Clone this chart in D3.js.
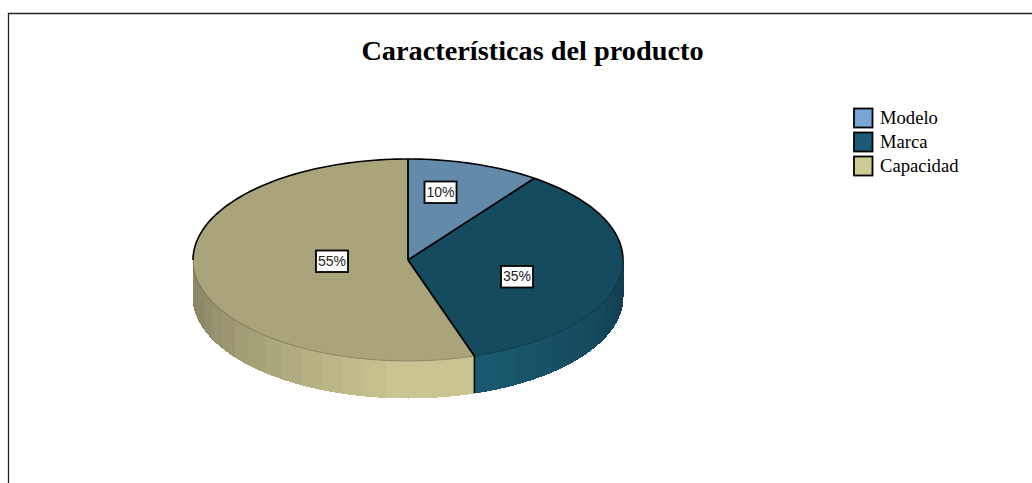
<!DOCTYPE html>
<html><head><meta charset="utf-8">
<script src="https://cdn.jsdelivr.net/npm/d3@7/dist/d3.min.js"></script>
<style>html,body{margin:0;padding:0;background:#fff;overflow:hidden}svg{display:block}</style>
</head><body><div id="c"></div>
<script>
const chartTitle = "Características del producto";
const categories = ["Modelo", "Marca", "Capacidad"];
const shares = [10, 35, 55];
const valueLabels = ["10%", "35%", "55%"];
const topColors = ["#6389ab", "#154b5e", "#a9a47a"];
const legendColors = ["#7aa6d6", "#1a5c75", "#cfcb96"];
const sideDark = ["#4f6e89", "#0f3a4a", "#8c8866"];
const sideLight = ["#6f9ac0", "#1a5a70", "#c9c491"];

const W = 1032, H = 483;
const cx = 408, cy = 260, rx = 215, ry = 101, depth = 37;
const labelOffsets = [[32.5, -68], [109, 16.5], [-76, 1]];
const svg = d3.select("#c").append("svg").attr("width", W).attr("height", H);
svg.append("rect").attr("width", W).attr("height", H).attr("fill", "#fff");

// frame
svg.append("path").attr("d", `M8.5 ${H}V13.5H${W}`).attr("fill", "none").attr("stroke", "#222").attr("stroke-width", 1.3);

// title
svg.append("text").attr("x", 532.5).attr("y", 60).attr("text-anchor", "middle")
  .attr("font-family", "'Liberation Serif'").attr("font-weight", "bold").attr("font-size", 28.3)
  .attr("fill", "#000").text(chartTitle);

const pie = d3.pie().sort(null).startAngle(0).endAngle(2 * Math.PI);
const slices = pie(shares);
const px = a => cx + rx * Math.sin(a);
const py = (a, d = 0) => cy - ry * Math.cos(a) + d;

// side wall: stepped bands as in the reference
const sideG = svg.append("g").attr("shape-rendering", "crispEdges");
const bandStep = Math.PI / 30;
slices.forEach((s, i) => {
  const a0 = Math.max(s.startAngle, Math.PI / 2), a1 = Math.min(s.endAngle, 3 * Math.PI / 2);
  if (a1 <= a0) return;
  const shade = d3.scaleLinear()
    .domain(i === 1 ? [Math.PI / 2, Math.PI * 0.68, Math.PI * 0.9] : [Math.PI * 0.9, Math.PI * 1.02, Math.PI * 1.42])
    .range(i === 1 ? [sideDark[i], "#154b5e", sideLight[i]] : [sideLight[i], sideLight[i], sideDark[i]])
    .clamp(true);
  const stops = d3.range(a0, a1, bandStep).concat([a1]);
  d3.pairs(stops).forEach(([u, v]) => {
    const n = 6, seq = d3.range(n + 1).map(k => u + (v - u) * k / n);
    const front = seq.map(a => [px(a), py(a, depth)]);
    const back = seq.slice().reverse().map(a => [px(a), py(a)]);
    const col = shade((u + v) / 2);
    sideG.append("path").attr("d", d3.line()(front.concat(back)) + "Z")
      .attr("fill", col).attr("stroke", col).attr("stroke-width", 1);
  });
});
// divider on the side wall, between Marca and Capacidad
const edge = slices[1].endAngle;
svg.append("line").attr("x1", px(edge)).attr("x2", px(edge)).attr("y1", py(edge)).attr("y2", py(edge, depth))
  .attr("stroke", "#000").attr("stroke-width", 1.6);

// top face
const arc = d3.arc().innerRadius(0).outerRadius(rx);
const topG = svg.append("g").attr("transform", `translate(${cx},${cy}) scale(1,${ry / rx})`);
topG.selectAll("path").data(slices).join("path").attr("d", arc)
  .attr("fill", (d, i) => topColors[i]).attr("stroke", "none");

// faint rim along the front half, heavier outline over the back half
const seqA = d3.range(0, 121).map(k => Math.PI / 2 + Math.PI * k / 120);
svg.append("path").attr("d", d3.line()(seqA.map(a => [px(a), py(a)])))
  .attr("fill", "none").attr("stroke", "#000").attr("stroke-opacity", 0.4).attr("stroke-width", 0.6);
const seqB = d3.range(0, 121).map(k => -Math.PI / 2 + Math.PI * k / 120);
svg.append("path").attr("d", d3.line()(seqB.map(a => [px(a), py(a)])))
  .attr("fill", "none").attr("stroke", "#000").attr("stroke-width", 1.6);

// radial dividers
slices.forEach(s => {
  svg.append("line").attr("x1", cx).attr("y1", cy).attr("x2", px(s.startAngle)).attr("y2", py(s.startAngle))
    .attr("stroke", "#000").attr("stroke-width", 1.8);
});

// value labels
slices.forEach((s, i) => {
  const x = cx + labelOffsets[i][0], y = cy + labelOffsets[i][1];
  const g = svg.append("g");
  g.append("rect").attr("x", x - 16).attr("y", y - 10.5).attr("width", 32).attr("height", 21.5)
    .attr("fill", "#fff").attr("stroke", "#000").attr("stroke-width", 1.8);
  g.append("text").attr("x", x).attr("y", y + 4.8).attr("text-anchor", "middle")
    .attr("font-family", "'Liberation Sans'").attr("font-size", 14).attr("fill", "#222").text(valueLabels[i]);
});

// legend
const legendY = d3.scalePoint().domain(categories).range([118, 166]);
const lg = svg.append("g").selectAll("g").data(categories).join("g");
lg.append("rect").attr("x", 854).attr("y", d => legendY(d) - 9.5).attr("width", 18.5).attr("height", 19)
  .attr("fill", (d, i) => legendColors[i]).attr("stroke", "#000").attr("stroke-width", 1.8);
lg.append("text").attr("x", 880).attr("y", d => legendY(d) + 5.5)
  .attr("font-family", "'Liberation Serif'").attr("font-size", 18.6).attr("fill", "#000").text(d => d);
</script></body></html>
